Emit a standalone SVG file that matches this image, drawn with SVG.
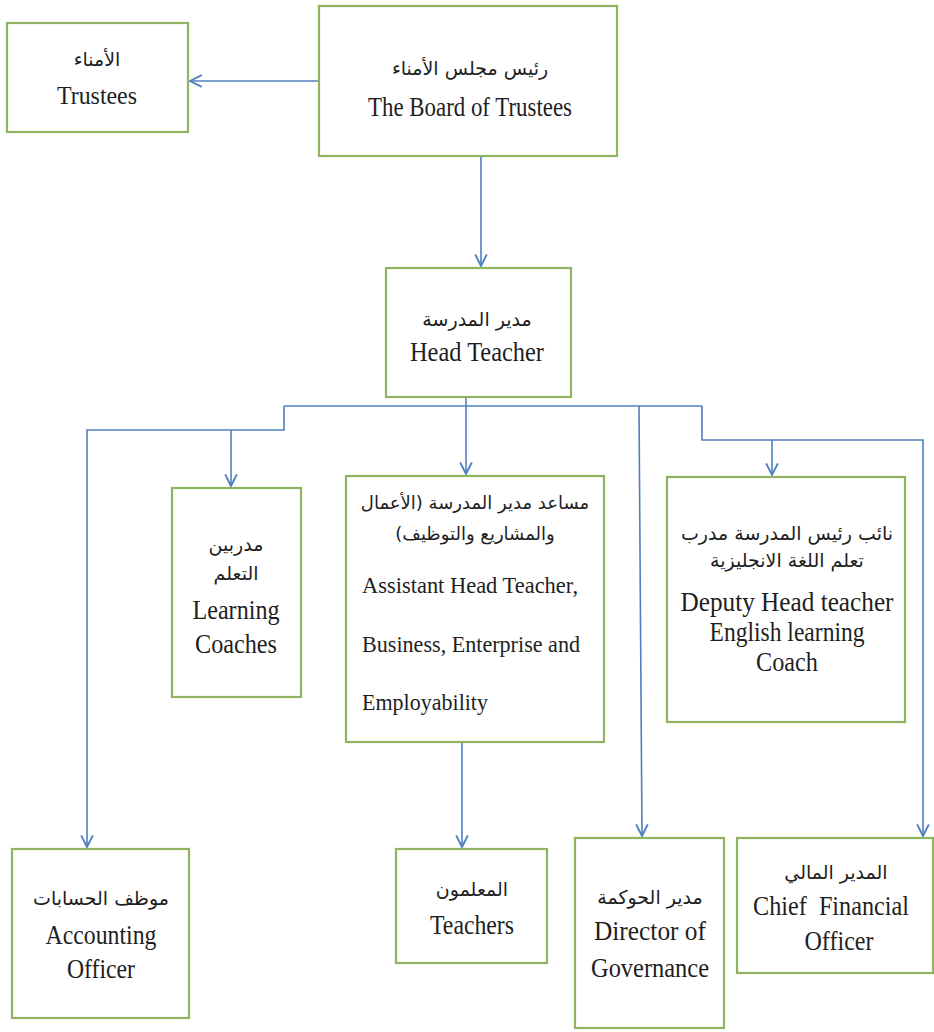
<svg xmlns="http://www.w3.org/2000/svg" width="934" height="1032" viewBox="0 0 934 1032">
<style>
.box{fill:#fff;stroke:#8fb360;stroke-width:2.2}
.en{font-family:"Liberation Serif","Times New Roman",serif;font-size:27px;fill:#1e1e1e;text-anchor:middle}
.enl{font-family:"Liberation Serif","Times New Roman",serif;font-size:23px;fill:#1e1e1e}
.ar{font-family:"DejaVu Sans","Noto Sans",sans-serif;font-size:19px;fill:#1e1e1e;text-anchor:middle;direction:rtl;unicode-bidi:embed}
.ln{fill:none;stroke:#4f7fbf;stroke-width:1.6}
</style>
<defs>
<marker id="ah" viewBox="0 0 12 12" refX="11" refY="6" markerWidth="14" markerHeight="14" markerUnits="userSpaceOnUse" orient="auto">
<path d="M1,1 L11,6 L1,11" fill="none" stroke="#4f7fbf" stroke-width="1.6"/>
</marker>
</defs>
<rect width="934" height="1032" fill="#fff"/>
<g id="connectors">
<path class="ln" d="M319,81 L190,81" marker-end="url(#ah)"/>
<path class="ln" d="M481,156 L481,266" marker-end="url(#ah)"/>
<path class="ln" d="M466,397 L466,474" marker-end="url(#ah)"/>
<path class="ln" d="M284,406 L702,406"/>
<path class="ln" d="M284,406 L284,430 L87,430 L87,847" marker-end="url(#ah)"/>
<path class="ln" d="M231,430 L231,486" marker-end="url(#ah)"/>
<path class="ln" d="M639,406 L642,836" marker-end="url(#ah)"/>
<path class="ln" d="M702,406 L702,440 L923,440 L923,836" marker-end="url(#ah)"/>
<path class="ln" d="M772,440 L772,475" marker-end="url(#ah)"/>
<path class="ln" d="M462,742 L462,847" marker-end="url(#ah)"/>
</g>
<g id="trustees">
<rect class="box" x="7" y="23" width="181" height="109"/>
<text class="ar" x="97" y="66">الأمناء</text>
<text class="en" x="97" y="104" style="font-size:25px" textLength="80" lengthAdjust="spacingAndGlyphs">Trustees</text>
</g>
<g id="board">
<rect class="box" x="319" y="6" width="298" height="150"/>
<text class="ar" x="470" y="75">رئيس مجلس الأمناء</text>
<text class="en" x="470" y="116" textLength="204" lengthAdjust="spacingAndGlyphs">The Board of Trustees</text>
</g>
<g id="head-teacher">
<rect class="box" x="386" y="268" width="185" height="129"/>
<text class="ar" x="477" y="326">مدير المدرسة</text>
<text class="en" x="477" y="361" style="font-size:28px" textLength="134" lengthAdjust="spacingAndGlyphs">Head Teacher</text>
</g>
<g id="learning-coaches">
<rect class="box" x="172" y="488" width="129" height="209"/>
<text class="ar" x="236" y="551">مدربين</text>
<text class="ar" x="236" y="580">التعلم</text>
<text class="en" x="236" y="619" textLength="87" lengthAdjust="spacingAndGlyphs">Learning</text>
<text class="en" x="236" y="653" textLength="82" lengthAdjust="spacingAndGlyphs">Coaches</text>
</g>
<g id="assistant-head">
<rect class="box" x="346" y="476" width="258" height="266"/>
<text class="ar" x="475" y="509" style="font-size:18px">مساعد مدير المدرسة (الأعمال</text>
<text class="ar" x="475" y="540" style="font-size:18px">والمشاريع والتوظيف)</text>
<text class="enl" x="362" y="593" textLength="216" lengthAdjust="spacingAndGlyphs">Assistant Head Teacher,</text>
<text class="enl" x="362" y="652" textLength="218" lengthAdjust="spacingAndGlyphs">Business, Enterprise and</text>
<text class="enl" x="362" y="710" textLength="126" lengthAdjust="spacingAndGlyphs">Employability</text>
</g>
<g id="deputy-head">
<rect class="box" x="667" y="477" width="238" height="245"/>
<text class="ar" x="787" y="540">نائب رئيس المدرسة مدرب</text>
<text class="ar" x="787" y="567">تعلم اللغة الانجليزية</text>
<text class="en" x="787" y="611" textLength="213" lengthAdjust="spacingAndGlyphs">Deputy Head teacher</text>
<text class="en" x="787" y="641" textLength="155" lengthAdjust="spacingAndGlyphs">English learning</text>
<text class="en" x="787" y="671" textLength="62" lengthAdjust="spacingAndGlyphs">Coach</text>
</g>
<g id="accounting-officer">
<rect class="box" x="12" y="849" width="177" height="169"/>
<text class="ar" x="101" y="905">موظف الحسابات</text>
<text class="en" x="101" y="944" textLength="111" lengthAdjust="spacingAndGlyphs">Accounting</text>
<text class="en" x="101" y="978" textLength="68" lengthAdjust="spacingAndGlyphs">Officer</text>
</g>
<g id="teachers">
<rect class="box" x="396" y="849" width="151" height="114"/>
<text class="ar" x="472" y="896">المعلمون</text>
<text class="en" x="472" y="934" textLength="84" lengthAdjust="spacingAndGlyphs">Teachers</text>
</g>
<g id="director-governance">
<rect class="box" x="575" y="838" width="149" height="190"/>
<text class="ar" x="650" y="904">مدير الحوكمة</text>
<text class="en" x="650" y="940" textLength="112" lengthAdjust="spacingAndGlyphs">Director of</text>
<text class="en" x="650" y="977" textLength="118" lengthAdjust="spacingAndGlyphs">Governance</text>
</g>
<g id="cfo">
<rect class="box" x="737" y="838" width="196" height="135"/>
<text class="ar" x="836" y="879">المدير المالي</text>
<text class="en" x="831" y="915" style="font-size:28px" textLength="156" lengthAdjust="spacingAndGlyphs" xml:space="preserve">Chief  Financial</text>
<text class="en" x="839" y="950" style="font-size:28px" textLength="69" lengthAdjust="spacingAndGlyphs">Officer</text>
</g>
</svg>
